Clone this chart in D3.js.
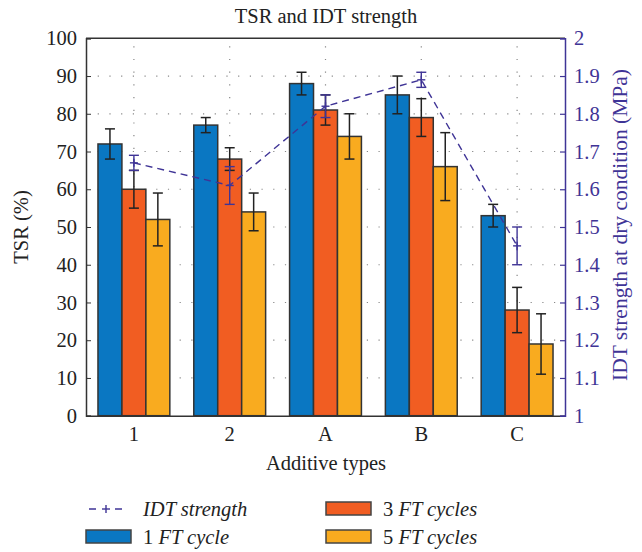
<!DOCTYPE html>
<html>
<head>
<meta charset="utf-8">
<script src="https://cdn.jsdelivr.net/npm/d3@7"></script>
<style>
  html, body { margin: 0; padding: 0; background: #fff; }
  svg { display: block; }
  text { font-family: "Liberation Serif", "DejaVu Serif", serif; }
</style>
</head>
<body>
<svg id="chart" width="642" height="552"></svg>
<script>
// ---- data ----
const categories = ["1", "2", "A", "B", "C"];
const seriesNames = ["1 FT cycle", "3 FT cycles", "5 FT cycles"];
const tsr1 = [72, 77, 88, 85, 53];
const tsr1Err = [4, 2, 3, 5, 3];
const tsr3 = [60, 68, 81, 79, 28];
const tsr3Err = [5, 3, 4, 5, 6];
const tsr5 = [52, 54, 74, 66, 19];
const tsr5Err = [7, 5, 6, 9, 8];
const idt = [1.67, 1.61, 1.82, 1.89, 1.45];
const idtErr = [0.02, 0.05, 0.03, 0.02, 0.05];
const leftTicks = [0, 10, 20, 30, 40, 50, 60, 70, 80, 90, 100];
const rightTicks = [1, 1.1, 1.2, 1.3, 1.4, 1.5, 1.6, 1.7, 1.8, 1.9, 2];
const rightTickLabels = ["1", "1.1", "1.2", "1.3", "1.4", "1.5", "1.6", "1.7", "1.8", "1.9", "2"];

const colors = ["#0a77c2", "#f15d22", "#f9ab1f"];
const purple = "#3f3496";
const axisColor = "#333";
const FS = 20.5;

const svg = d3.select("#chart");
const L = 86, R = 565, T = 38.3, B = 415.7;

const x = d3.scaleBand().domain(categories).range([L, R]).paddingInner(0).paddingOuter(0);
const groupW = x.bandwidth() * 0.75;
const xs = d3.scaleBand().domain([0, 1, 2]).range([0, groupW]);
const yL = d3.scaleLinear().domain([0, 100]).range([B, T]);
const yR = d3.scaleLinear().domain([1, 2]).range([B, T]);

// gridlines
const grid = svg.append("g");
grid.selectAll("line.h").data(leftTicks.slice(1, -1)).join("line")
  .attr("x1", L).attr("x2", R).attr("y1", d => yL(d)).attr("y2", d => yL(d))
  .attr("stroke", "#888").attr("stroke-width", 1.2).attr("stroke-dasharray", "1.2,10.5");
grid.selectAll("line.v").data(categories).join("line")
  .attr("x1", d => x(d) + x.bandwidth() / 2).attr("x2", d => x(d) + x.bandwidth() / 2)
  .attr("y1", B).attr("y2", T)
  .attr("stroke", "#888").attr("stroke-width", 1.2).attr("stroke-dasharray", "1.2,11.5");

// bars
const series = [
  { vals: tsr1, errs: tsr1Err },
  { vals: tsr3, errs: tsr3Err },
  { vals: tsr5, errs: tsr5Err }
];
const barG = svg.append("g");
series.forEach((s, si) => {
  barG.selectAll(null).data(categories).join("rect")
    .attr("x", (c) => x(c) + (x.bandwidth() - groupW) / 2 + xs(si))
    .attr("width", xs.bandwidth())
    .attr("y", (c, i) => yL(s.vals[i]))
    .attr("height", (c, i) => B - yL(s.vals[i]))
    .attr("fill", colors[si])
    .attr("stroke", "#333").attr("stroke-width", 1.5);
});
// error bars
const errG = svg.append("g").attr("stroke", "#222").attr("stroke-width", 1.5);
series.forEach((s, si) => {
  categories.forEach((c, i) => {
    const cx = x(c) + (x.bandwidth() - groupW) / 2 + xs(si) + xs.bandwidth() / 2;
    const y1 = yL(s.vals[i] + s.errs[i]), y2 = yL(s.vals[i] - s.errs[i]);
    errG.append("line").attr("x1", cx).attr("x2", cx).attr("y1", y1).attr("y2", y2);
    errG.append("line").attr("x1", cx - 5).attr("x2", cx + 5).attr("y1", y1).attr("y2", y1);
    errG.append("line").attr("x1", cx - 5).attr("x2", cx + 5).attr("y1", y2).attr("y2", y2);
  });
});

// IDT line
const idtX = (c) => x(c) + x.bandwidth() / 2;
const line = d3.line().x((d, i) => idtX(categories[i])).y(d => yR(d));
svg.append("path").datum(idt).attr("d", line)
  .attr("fill", "none").attr("stroke", purple).attr("stroke-width", 1.4)
  .attr("stroke-dasharray", "7,5");
const idtG = svg.append("g").attr("stroke", purple).attr("stroke-width", 1.4);
categories.forEach((c, i) => {
  const cx = idtX(c);
  const y1 = yR(idt[i] + idtErr[i]), y2 = yR(idt[i] - idtErr[i]), ym = yR(idt[i]);
  idtG.append("line").attr("x1", cx).attr("x2", cx).attr("y1", y1).attr("y2", y2);
  idtG.append("line").attr("x1", cx - 5).attr("x2", cx + 5).attr("y1", y1).attr("y2", y1);
  idtG.append("line").attr("x1", cx - 5).attr("x2", cx + 5).attr("y1", y2).attr("y2", y2);
  idtG.append("line").attr("x1", cx - 4).attr("x2", cx + 4).attr("y1", ym).attr("y2", ym);
  idtG.append("line").attr("x1", cx).attr("x2", cx).attr("y1", ym - 4).attr("y2", ym + 4);
});

// frame
svg.append("line").attr("x1", L).attr("x2", R).attr("y1", T).attr("y2", T).attr("stroke", axisColor).attr("stroke-width", 1.5);

// left axis
const leftAxis = d3.axisLeft(yL).tickValues(leftTicks).tickSize(-5).tickPadding(9);
const gl = svg.append("g").attr("transform", `translate(${L},0)`).call(leftAxis);
gl.select(".domain").attr("stroke", axisColor).attr("stroke-width", 1.5);
gl.selectAll(".tick line").attr("stroke", axisColor);
gl.selectAll(".tick text").attr("font-size", FS).attr("fill", "#222")
  .attr("font-family", "Liberation Serif, serif");

// bottom axis
const bottomAxis = d3.axisBottom(x).tickSize(0).tickPadding(11);
const gb = svg.append("g").attr("transform", `translate(0,${B})`).call(bottomAxis);
gb.select(".domain").attr("stroke", axisColor).attr("stroke-width", 1.5);
gb.selectAll(".tick text").attr("font-size", FS).attr("fill", "#222")
  .attr("font-family", "Liberation Serif, serif");

// right axis
const rightAxis = d3.axisRight(yR).tickValues(rightTicks)
  .tickFormat((d, i) => rightTickLabels[i]).tickSize(-5).tickPadding(9);
const gr = svg.append("g").attr("transform", `translate(${R},0)`).call(rightAxis);
gr.select(".domain").attr("stroke", purple).attr("stroke-width", 1.5);
gr.selectAll(".tick line").attr("stroke", purple).attr("stroke-width", 1.2);
gr.selectAll(".tick text").attr("font-size", FS).attr("fill", purple)
  .attr("font-family", "Liberation Serif, serif");

// titles
svg.append("text").attr("x", 326).attr("y", 23).attr("text-anchor", "middle")
  .attr("font-size", FS).attr("fill", "#222").text("TSR and IDT strength");
svg.append("text").attr("x", 326).attr("y", 470).attr("text-anchor", "middle")
  .attr("font-size", FS).attr("fill", "#222").text("Additive types");
svg.append("text").attr("transform", `translate(28,${(T + B) / 2}) rotate(-90)`)
  .attr("text-anchor", "middle").attr("font-size", FS).attr("fill", "#222").text("TSR (%)");
svg.append("text").attr("transform", `translate(627,${(T + B) / 2 - 2}) rotate(-90)`)
  .attr("text-anchor", "middle").attr("font-size", 21.5).attr("fill", purple)
  .text("IDT strength at dry condition (MPa)");

// legend
const lg = svg.append("g");
// IDT entry
lg.append("line").attr("x1", 89).attr("x2", 123).attr("y1", 509).attr("y2", 509)
  .attr("stroke", purple).attr("stroke-width", 1.4).attr("stroke-dasharray", "7,6");
lg.append("line").attr("x1", 101).attr("x2", 111).attr("y1", 509).attr("y2", 509)
  .attr("stroke", "#fff").attr("stroke-width", 3);
lg.append("line").attr("x1", 102).attr("x2", 110).attr("y1", 509).attr("y2", 509)
  .attr("stroke", purple).attr("stroke-width", 1.4);
lg.append("line").attr("x1", 106).attr("x2", 106).attr("y1", 505).attr("y2", 513)
  .attr("stroke", purple).attr("stroke-width", 1.4);
lg.append("text").attr("x", 143).attr("y", 516).attr("font-size", FS)
  .attr("font-style", "italic").attr("fill", "#222").text("IDT strength");

const legendItems = [
  { si: 0, num: "1", rest: "FT cycle", rx: 86, ry: 530, tx: 143, ty: 544 },
  { si: 1, num: "3", rest: "FT cycles", rx: 326, ry: 502, tx: 383, ty: 516 },
  { si: 2, num: "5", rest: "FT cycles", rx: 326, ry: 530, tx: 383, ty: 544 }
];
legendItems.forEach(it => {
  lg.append("rect").attr("x", it.rx).attr("y", it.ry).attr("width", 45).attr("height", 13)
    .attr("fill", colors[it.si]).attr("stroke", "#444").attr("stroke-width", 1.5);
  const t = lg.append("text").attr("x", it.tx).attr("y", it.ty).attr("font-size", FS).attr("fill", "#222");
  t.append("tspan").text(it.num + " ");
  t.append("tspan").attr("font-style", "italic").text(it.rest);
});
</script>
</body>
</html>
